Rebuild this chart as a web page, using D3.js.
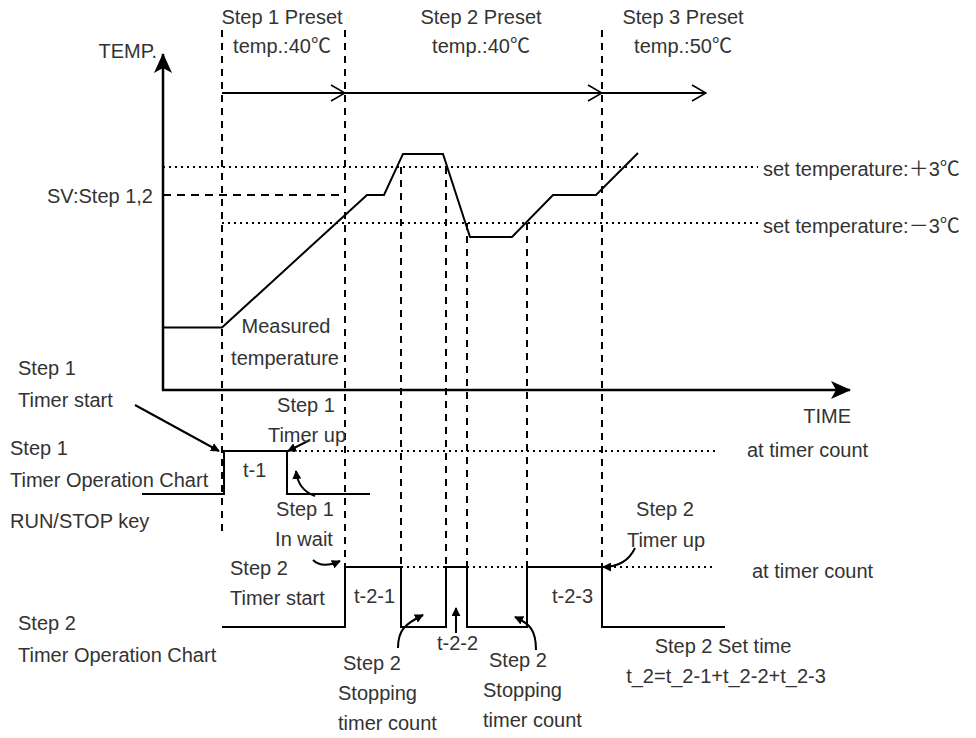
<!DOCTYPE html>
<html>
<head>
<meta charset="utf-8">
<script src="https://cdn.jsdelivr.net/npm/d3@7"></script>
<style>
  body { margin: 0; background: #fff; }
  text { font-family: "Liberation Sans", Arial, "Noto Sans CJK SC", sans-serif; font-size: 20px; fill: #333; }
  tspan.cjk { font-family: "Noto Sans CJK SC", sans-serif; }
</style>
</head>
<body>
<div id="chart"></div>
<script>
// time offsets (from the temp axis) and temperatures
var sv = 40;          // set value for step 1,2
var band = 3;         // +/- 3 deg
var phaseTimes = [59, 182, 439];            // step 1, step 2, step 3 start
var phaseArrowEnd = 543;
var measTime = [0, 59, 204, 221, 240, 280, 307, 349, 390, 433, 475];
var measTemp = [25.8, 25.8, 40, 40, 44.4, 44.4, 35.5, 35.5, 40, 40, 44.5];
var eventTimes = [238, 283, 304, 364];      // measured temp leaves / enters the band
var eventTemps = [43, 43, 37, 37];
var timer1Time = [-21, 61, 124, 207];
var timer1State = [0, 1, 0, 0];
var timer2Time = [59, 182, 238, 283, 304, 364, 439, 562];
var timer2State = [0, 1, 0, 1, 0, 1, 0, 0];
var presetLabels = ["Step 1 Preset", "Step 2 Preset", "Step 3 Preset"];
var presetTemps = ["temp.:40℃", "temp.:40℃", "temp.:50℃"];

var width = 976, height = 738;
var svg = d3.select("#chart").append("svg")
  .attr("width", width)
  .attr("height", height);

var x = d3.scaleLinear().domain([0, 685]).range([163, 848]);
var y = d3.scaleLinear().domain([sv, sv + band]).range([195, 167]);
var yT1 = d3.scaleLinear().domain([0, 1]).range([494, 451]);
var yT2 = d3.scaleLinear().domain([0, 1]).range([627, 567]);

var defs = svg.append("defs");
defs.append("marker").attr("id", "head")
  .attr("viewBox", "0 0 10 10").attr("refX", 9).attr("refY", 5)
  .attr("markerWidth", 9).attr("markerHeight", 9).attr("markerUnits", "userSpaceOnUse")
  .attr("orient", "auto")
  .append("path").attr("d", "M0,0L10,5L0,10z").attr("fill", "#000");
defs.append("marker").attr("id", "open")
  .attr("viewBox", "0 0 16 18").attr("refX", 15).attr("refY", 9)
  .attr("markerWidth", 16).attr("markerHeight", 18).attr("markerUnits", "userSpaceOnUse")
  .attr("orient", "auto")
  .append("path").attr("d", "M1,1L15,9L1,17").attr("fill", "none").attr("stroke", "#000").attr("stroke-width", 1.6);
defs.append("marker").attr("id", "axis")
  .attr("viewBox", "0 0 20 18").attr("refX", 19).attr("refY", 9)
  .attr("markerWidth", 20).attr("markerHeight", 18).attr("markerUnits", "userSpaceOnUse")
  .attr("orient", "auto")
  .append("path").attr("d", "M0,0L20,9L0,18L5,9z").attr("fill", "#000");

// reference lines
var dotted = { "stroke": "#000", "stroke-width": 2, "stroke-dasharray": "2 4" };
function hline(x1, x2, yy, style) {
  var l = svg.append("line").attr("x1", x1).attr("x2", x2).attr("y1", yy).attr("y2", yy);
  for (var k in style) l.attr(k, style[k]);
  return l;
}
hline(x(0), x(595), y(sv + band), dotted);
hline(x(59), x(595), y(sv - band), dotted);
hline(x(0), x(182), y(sv), { "stroke": "#000", "stroke-width": 2, "stroke-dasharray": "8 6" });

// phase boundaries
var phaseBottom = [532, yT2(1), yT2(1)];
svg.selectAll(".phase").data(phaseTimes).enter().append("line")
  .attr("x1", d => x(d)).attr("x2", d => x(d))
  .attr("y1", 30).attr("y2", (d, i) => phaseBottom[i])
  .attr("stroke", "#000").attr("stroke-width", 2).attr("stroke-dasharray", "7 6");

// band crossings
svg.selectAll(".event").data(eventTimes).enter().append("line")
  .attr("x1", d => x(d)).attr("x2", d => x(d))
  .attr("y1", (d, i) => y(eventTemps[i])).attr("y2", yT2(1))
  .attr("stroke", "#000").attr("stroke-width", 2).attr("stroke-dasharray", "7 6");

// preset arrows
var arrowPts = phaseTimes.concat([phaseArrowEnd]);
for (var i = 0; i < arrowPts.length - 1; i++) {
  svg.append("line")
    .attr("x1", x(arrowPts[i])).attr("x2", x(arrowPts[i + 1]))
    .attr("y1", 93).attr("y2", 93)
    .attr("stroke", "#000").attr("stroke-width", 2)
    .attr("marker-end", "url(#open)");
}

// axes
svg.append("line").attr("x1", x(0)).attr("x2", x(0)).attr("y1", 391).attr("y2", 54)
  .attr("stroke", "#000").attr("stroke-width", 2.5).attr("marker-end", "url(#axis)");
svg.append("line").attr("x1", x(0) - 1).attr("x2", x(685) + 2).attr("y1", 390).attr("y2", 390)
  .attr("stroke", "#000").attr("stroke-width", 2.5).attr("marker-end", "url(#axis)");

// measured temperature
var meas = measTime.map((t, i) => [t, measTemp[i]]);
svg.append("path").datum(meas)
  .attr("d", d3.line().x(d => x(d[0])).y(d => y(d[1])))
  .attr("fill", "none").attr("stroke", "#000").attr("stroke-width", 2);

// timer charts
function timer(times, states, ys) {
  var pts = times.map((t, i) => [t, states[i]]);
  svg.append("path").datum(pts)
    .attr("d", d3.line().curve(d3.curveStepAfter).x(d => x(d[0])).y(d => ys(d[1])))
    .attr("fill", "none").attr("stroke", "#000").attr("stroke-width", 2);
}
timer(timer1Time, timer1State, yT1);
timer(timer2Time, timer2State, yT2);

hline(x(124), x(556), yT1(1), dotted);
hline(x(238), x(283), yT2(1), dotted);
hline(x(304), x(364), yT2(1), dotted);
hline(x(439), x(551), yT2(1), dotted);

// annotation arrows
var pointers = [
  "M135,405L219,451",
  "M310,440L288,451",
  "M315,496Q298,490 296,471",
  "M313,560Q322,569 340,561",
  "M398,648C398,630 405,624 423,615",
  "M456,633L456,608",
  "M536,650C536,630 530,624 515,617",
  "M635,548Q626,567 603,567"
];
svg.selectAll(".ptr").data(pointers).enter().append("path")
  .attr("d", d => d).attr("fill", "none")
  .attr("stroke", "#000").attr("stroke-width", 2)
  .attr("marker-end", "url(#head)");

// texts; ℃ / ＋ / － go in a CJK tspan so they come out full width
function label(txt, tx, ty, anchor) {
  var t = svg.append("text").attr("x", tx).attr("y", ty).attr("dy", "0.35em")
    .attr("text-anchor", anchor || "start");
  txt.split(/([℃＋－])/).forEach(part => {
    if (!part) return;
    t.append("tspan").attr("class", /[℃＋－]/.test(part) ? "cjk" : null).text(part);
  });
}
var presetCenter = [282, 481, 683];
presetLabels.forEach((s, i) => {
  label(s, presetCenter[i], 17, "middle");
  label(presetTemps[i], presetCenter[i], 46, "middle");
});
label("TEMP.", 157, 51, "end");
label("SV:Step 1,2", 153, 196, "end");
label("set temperature:＋3℃", 763, 169);
label("set temperature:－3℃", 763, 226);
label("Measured", 286, 326, "middle");
label("temperature", 285, 358, "middle");
label("Step 1", 18, 368);
label("Timer start", 18, 400);
label("TIME", 851, 416, "end");
label("Step 1", 306, 405, "middle");
label("Timer up", 307, 435, "middle");
label("Step 1", 10, 448);
label("Timer Operation Chart", 10, 480);
label("t-1", 243, 470);
label("at timer count", 747, 450);
label("RUN/STOP key", 10, 521);
label("Step 1", 305, 509, "middle");
label("In wait", 304, 539, "middle");
label("Step 2", 230, 568);
label("Timer start", 230, 598);
label("t-2-1", 354, 596);
label("Step 2", 18, 623);
label("Timer Operation Chart", 18, 655);
label("t-2-2", 437, 643);
label("Step 2", 343, 663);
label("Stopping", 338, 693);
label("timer count", 338, 723);
label("Step 2", 489, 660);
label("Stopping", 483, 690);
label("timer count", 483, 720);
label("t-2-3", 552, 596);
label("Step 2", 665, 509, "middle");
label("Timer up", 666, 540, "middle");
label("at timer count", 752, 571);
label("Step 2 Set time", 723, 646, "middle");
label("t_2=t_2-1+t_2-2+t_2-3", 726, 676, "middle");
</script>
</body>
</html>
